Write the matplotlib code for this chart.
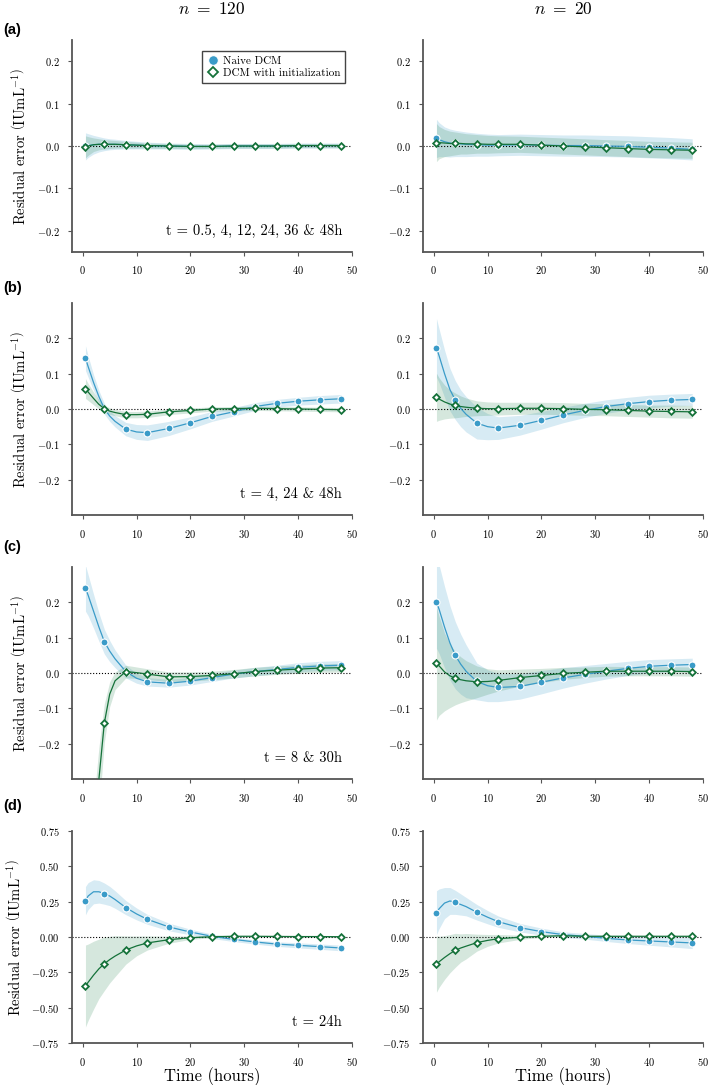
import numpy as np
import matplotlib
matplotlib.use("Agg")
import matplotlib.pyplot as plt

plt.rcParams['font.family'] = 'serif'
plt.rcParams['font.serif'] = ['cmr10']
plt.rcParams['mathtext.fontset'] = 'cm'
plt.rcParams['axes.formatter.use_mathtext'] = True
plt.rcParams['axes.unicode_minus'] = True

# time grid of the smooth curves, and times of the markers
tc = [0.5, 1, 2, 3, 4, 5, 6, 8, 10, 12, 16, 20, 24, 28, 32, 36, 40, 44, 48]
tm = [0.5, 4, 8, 12, 16, 20, 24, 28, 32, 36, 40, 44, 48]

# (a) t = 0.5, 4, 12, 24, 36 & 48h
a120_naive = [-0.001, 0.001, 0.003, 0.004, 0.004, 0.004, 0.004, 0.003, 0.002, 0.001, 0.0, -0.001, -0.001, 0.0, 0.0, 0.0, 0.001, 0.001, 0.001]
a120_naive_hw = [0.032, 0.028, 0.022, 0.018, 0.015, 0.013, 0.012, 0.010, 0.009, 0.008, 0.007, 0.007, 0.006, 0.006, 0.006, 0.006, 0.006, 0.006, 0.006]
a120_init = [-0.002, 0.0, 0.003, 0.004, 0.004, 0.004, 0.004, 0.003, 0.002, 0.001, 0.0, -0.001, -0.001, 0.0, 0.0, 0.0, 0.001, 0.001, 0.001]
a120_init_hw = [0.026, 0.022, 0.016, 0.013, 0.011, 0.010, 0.009, 0.008, 0.007, 0.006, 0.006, 0.005, 0.005, 0.005, 0.005, 0.005, 0.005, 0.005, 0.005]

a20_naive = [0.018, 0.015, 0.010, 0.007, 0.006, 0.005, 0.004, 0.003, 0.002, 0.002, 0.003, 0.002, 0.001, 0.001, 0.0, -0.001, -0.003, -0.005, -0.008]
a20_naive_hw = [0.045, 0.040, 0.035, 0.033, 0.031, 0.030, 0.029, 0.027, 0.026, 0.025, 0.025, 0.025, 0.025, 0.025, 0.025, 0.025, 0.025, 0.025, 0.025]
a20_init = [0.008, 0.008, 0.007, 0.006, 0.006, 0.006, 0.005, 0.005, 0.004, 0.004, 0.004, 0.002, 0.0, -0.002, -0.004, -0.006, -0.008, -0.009, -0.010]
a20_init_hw = [0.045, 0.038, 0.032, 0.029, 0.027, 0.025, 0.024, 0.022, 0.021, 0.020, 0.019, 0.019, 0.019, 0.019, 0.019, 0.019, 0.019, 0.019, 0.019]

# (b) t = 4, 24 & 48h
b120_naive = [0.144, 0.12, 0.075, 0.035, 0.001, -0.020, -0.035, -0.057, -0.065, -0.067, -0.055, -0.039, -0.021, -0.008, 0.007, 0.016, 0.022, 0.026, 0.029]
b120_naive_hw = [0.035, 0.030, 0.022, 0.017, 0.015, 0.015, 0.016, 0.019, 0.021, 0.022, 0.020, 0.017, 0.014, 0.012, 0.011, 0.011, 0.011, 0.012, 0.012]
b120_init = [0.058, 0.048, 0.030, 0.013, 0.001, -0.006, -0.010, -0.016, -0.016, -0.015, -0.008, -0.004, 0.0, 0.001, 0.002, 0.001, 0.0, -0.001, -0.002]
b120_init_hw = [0.028, 0.024, 0.018, 0.013, 0.010, 0.009, 0.009, 0.009, 0.009, 0.009, 0.008, 0.007, 0.006, 0.006, 0.006, 0.006, 0.006, 0.006, 0.006]

b20_naive = [0.173, 0.15, 0.10, 0.055, 0.025, 0.002, -0.015, -0.040, -0.050, -0.054, -0.046, -0.032, -0.017, -0.004, 0.007, 0.015, 0.021, 0.025, 0.027]
b20_naive_hw = [0.083, 0.076, 0.067, 0.060, 0.055, 0.052, 0.050, 0.045, 0.037, 0.032, 0.028, 0.025, 0.022, 0.020, 0.019, 0.018, 0.018, 0.017, 0.017]
b20_init = [0.033, 0.028, 0.020, 0.014, 0.010, 0.007, 0.005, 0.002, 0.001, 0.001, 0.002, 0.002, 0.001, -0.001, -0.002, -0.004, -0.006, -0.007, -0.008]
b20_init_hw = [0.068, 0.060, 0.048, 0.040, 0.035, 0.030, 0.026, 0.021, 0.019, 0.018, 0.017, 0.017, 0.017, 0.017, 0.017, 0.017, 0.017, 0.018, 0.018]

# (c) t = 8 & 30h
c120_naive = [0.240, 0.22, 0.175, 0.13, 0.089, 0.062, 0.040, 0.004, -0.015, -0.025, -0.029, -0.023, -0.013, -0.003, 0.004, 0.010, 0.016, 0.020, 0.022]
c120_naive_hw = [0.065, 0.058, 0.048, 0.040, 0.035, 0.030, 0.025, 0.018, 0.014, 0.012, 0.011, 0.011, 0.011, 0.011, 0.012, 0.012, 0.013, 0.013, 0.013]
c120_init = [-0.95, -0.80, -0.52, -0.30, -0.142, -0.060, -0.022, 0.004, 0.001, -0.003, -0.011, -0.010, -0.007, -0.002, 0.004, 0.008, 0.011, 0.014, 0.015]
c120_init_hw = [0.25, 0.20, 0.15, 0.09, 0.055, 0.035, 0.025, 0.018, 0.016, 0.015, 0.014, 0.013, 0.012, 0.012, 0.012, 0.012, 0.012, 0.012, 0.012]

c20_naive = [0.200, 0.18, 0.13, 0.085, 0.050, 0.025, 0.005, -0.024, -0.036, -0.041, -0.038, -0.026, -0.014, -0.004, 0.005, 0.013, 0.019, 0.022, 0.024]
c20_naive_hw = [0.13, 0.125, 0.115, 0.105, 0.095, 0.085, 0.075, 0.052, 0.045, 0.040, 0.036, 0.033, 0.029, 0.025, 0.022, 0.020, 0.019, 0.018, 0.018]
c20_init = [0.027, 0.020, 0.003, -0.008, -0.015, -0.019, -0.022, -0.025, -0.024, -0.021, -0.013, -0.007, -0.001, 0.002, 0.005, 0.005, 0.005, 0.005, 0.004]
c20_init_hw = [0.16, 0.14, 0.11, 0.09, 0.075, 0.065, 0.057, 0.045, 0.036, 0.030, 0.024, 0.020, 0.017, 0.015, 0.014, 0.013, 0.013, 0.013, 0.013]

# (d) t = 24h
d120_naive = [0.257, 0.29, 0.32, 0.32, 0.307, 0.29, 0.265, 0.208, 0.163, 0.125, 0.071, 0.035, 0.005, -0.017, -0.035, -0.050, -0.059, -0.068, -0.078]
d120_naive_hw = [0.10, 0.095, 0.085, 0.08, 0.075, 0.068, 0.062, 0.05, 0.042, 0.035, 0.027, 0.02, 0.016, 0.015, 0.015, 0.016, 0.018, 0.019, 0.02]
d120_init = [-0.347, -0.32, -0.27, -0.225, -0.189, -0.16, -0.135, -0.092, -0.063, -0.042, -0.019, -0.005, 0.002, 0.005, 0.005, 0.004, 0.003, 0.003, 0.002]
d120_init_hw = [0.29, 0.27, 0.24, 0.21, 0.19, 0.165, 0.145, 0.10, 0.07, 0.05, 0.025, 0.012, 0.007, 0.006, 0.006, 0.006, 0.006, 0.006, 0.006]

d20_naive = [0.172, 0.20, 0.24, 0.255, 0.245, 0.23, 0.215, 0.175, 0.14, 0.108, 0.066, 0.038, 0.017, 0.005, -0.009, -0.021, -0.028, -0.035, -0.042]
d20_naive_hw = [0.155, 0.14, 0.11, 0.095, 0.085, 0.075, 0.065, 0.055, 0.047, 0.04, 0.03, 0.025, 0.02, 0.02, 0.022, 0.025, 0.03, 0.035, 0.04]
d20_init = [-0.191, -0.175, -0.145, -0.118, -0.094, -0.078, -0.065, -0.040, -0.024, -0.012, -0.002, 0.005, 0.009, 0.005, 0.005, 0.005, 0.005, 0.005, 0.005]
d20_init_hw = [0.20, 0.18, 0.155, 0.135, 0.12, 0.10, 0.09, 0.06, 0.042, 0.03, 0.015, 0.008, 0.006, 0.006, 0.006, 0.006, 0.006, 0.006, 0.006]

col_titles = [r"$n\ =\ 120$", r"$n\ =\ 20$"]
row_tags = ["(a)", "(b)", "(c)", "(d)"]
row_notes = ["t = 0.5, 4, 12, 24, 36 & 48h",
             "t = 4, 24 & 48h",
             "t = 8 & 30h",
             "t = 24h"]

panels = [
    [(a120_naive, a120_naive_hw, a120_init, a120_init_hw), (a20_naive, a20_naive_hw, a20_init, a20_init_hw)],
    [(b120_naive, b120_naive_hw, b120_init, b120_init_hw), (b20_naive, b20_naive_hw, b20_init, b20_init_hw)],
    [(c120_naive, c120_naive_hw, c120_init, c120_init_hw), (c20_naive, c20_naive_hw, c20_init, c20_init_hw)],
    [(d120_naive, d120_naive_hw, d120_init, d120_init_hw), (d20_naive, d20_naive_hw, d20_init, d20_init_hw)],
]

ylims = [0.25, 0.3, 0.3, 0.75]
yticks = [[-0.2, -0.1, 0.0, 0.1, 0.2]] * 3 + [[-0.75, -0.5, -0.25, 0.0, 0.25, 0.5, 0.75]]

blue = '#3a9bc8'
green = '#15723a'
spine_c = '#555555'

W, H = 709, 1085
fig = plt.figure(figsize=(W / 100, H / 100), dpi=100)

col_x = [72, 423]
row_top = [40, 303, 567, 831]
ax_w, ax_h = 280, 212

tc_arr = np.array(tc)
mk = np.isin(tc_arr, tm)

for r in range(4):
    for c in range(2):
        ax = fig.add_axes([col_x[c] / W, 1 - (row_top[r] + ax_h) / H, ax_w / W, ax_h / H])
        nv, nhw, iv, ihw = [np.array(v) for v in panels[r][c]]

        ax.fill_between(tc_arr, nv - nhw, nv + nhw, color=blue, alpha=0.2, lw=0, zorder=1)
        ax.fill_between(tc_arr, iv - ihw, iv + ihw, color='#2f8a55', alpha=0.2, lw=0, zorder=1)
        ax.axhline(0, color='black', ls=':', lw=0.8, zorder=2)

        ax.plot(tc_arr, nv, color=blue, lw=0.9, zorder=3)
        ax.plot(tc_arr[mk], nv[mk], ls='none', marker='o', ms=5, mfc=blue, mec='white',
                mew=0.8, zorder=4, label='Naive DCM')
        ax.plot(tc_arr, iv, color=green, lw=0.9, zorder=5)
        ax.plot(tc_arr[mk], iv[mk], ls='none', marker='D', ms=3.4, mfc='white', mec=green,
                mew=1.3, zorder=6, label='DCM with initialization')

        ax.set_xlim(-2, 50)
        ax.set_ylim(-ylims[r], ylims[r])
        ax.set_xticks([0, 10, 20, 30, 40, 50])
        ax.set_yticks(yticks[r])
        for s in ['top', 'right']:
            ax.spines[s].set_visible(False)
        for s in ['left', 'bottom']:
            ax.spines[s].set_color(spine_c)
            ax.spines[s].set_linewidth(1.3)
        ax.tick_params(labelsize=7.5, length=3, width=0.8, color=spine_c, pad=6)

        if c == 0:
            ax.set_ylabel(r"Residual error $\left(\mathrm{IUmL}^{-1}\right)$", fontsize=10.5, labelpad=6)
            ax.text(0.965, 0.10, row_notes[r], transform=ax.transAxes, ha='right', va='center',
                    fontsize=10.5)
        if r == 3:
            ax.set_xlabel("Time (hours)", fontsize=12, labelpad=0)
        if r == 0 and c == 0:
            leg = ax.legend(loc='upper right', bbox_to_anchor=(0.995, 0.975), fontsize=8,
                            fancybox=False, framealpha=1, edgecolor='#444444',
                            handletextpad=0.4, borderpad=0.45, labelspacing=0.25,
                            handlelength=1.0, markerscale=1.4)
            leg.get_frame().set_linewidth(1.0)

for c in range(2):
    fig.text((col_x[c] + ax_w / 2) / W, 1 - 9 / H, col_titles[c], ha='center', va='center',
             fontsize=12.5)

for r, y in enumerate([30, 288, 547, 806]):
    fig.text(3 / W, 1 - y / H, row_tags[r], ha='left', va='center', fontsize=10.5,
             family='Liberation Sans', weight='bold')

fig.savefig('out.png', dpi=100)
